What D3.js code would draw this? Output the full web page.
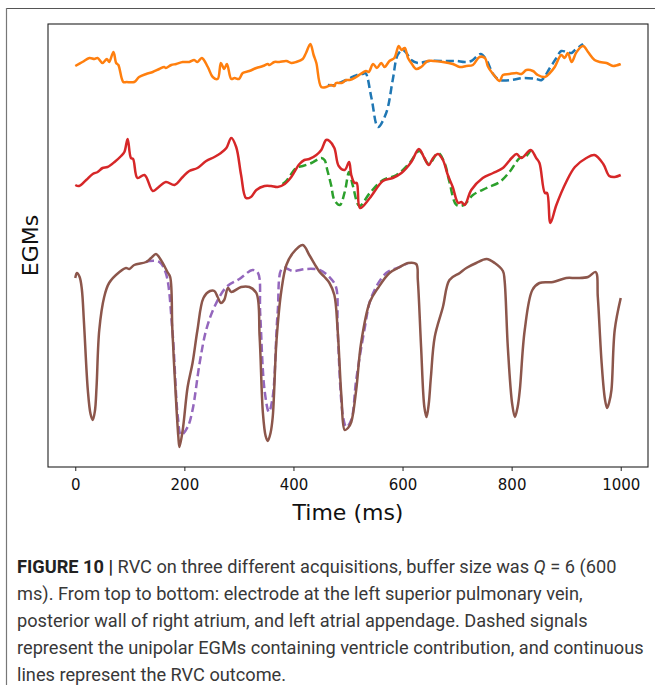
<!DOCTYPE html>
<html>
<head>
<meta charset="utf-8">
<script src="https://cdn.jsdelivr.net/npm/d3@7"></script>
<style>
  body{margin:0;background:#fff;}
  svg{display:block;}
</style>
</head>
<body>
<svg id="fig" width="655" height="685"></svg>
<script>
// time (ms), amplitude (stacked, arbitrary units)
var orangeRvc=[[0,40.1],[13,40.5],[26,40.9],[35,40.8],[41,40.9],[50,40.4],[58,40.8],[62,40.5],[70,41.5],[75,40.4],[79,40.2],[88,38.5],[94,38.5],[108,38.5],[117,39.0],[130,39.3],[142,39.5],[154,39.8],[163,40.0],[166,39.9],[176,40.2],[185,40.3],[197,40.5],[209,40.5],[218,40.7],[224,40.5],[232,40.9],[243,40.0],[252,39.0],[261,38.8],[267,40.4],[273,39.8],[278,40.3],[286,38.8],[292,38.9],[300,38.8],[307,39.4],[319,39.6],[332,39.9],[344,40.1],[353,40.3],[356,40.2],[365,40.5],[374,40.5],[387,40.6],[396,40.4],[405,40.5],[417,40.8],[423,41.4],[431,42.3],[437,41.2],[442,40.4],[451,38.0],[460,38.0],[469,38.2],[475,38.1],[478,38.4],[488,38.4],[497,38.7],[503,38.7],[515,39.0],[518,39.1],[533,39.6],[538,39.5],[546,40.3],[553,39.9],[561,40.4],[567,40.0],[576,40.6],[585,40.9],[593,42.1],[598,41.7],[604,41.9],[610,40.9],[616,40.4],[625,39.8],[634,40.0],[646,40.6],[656,40.6],[674,40.5],[692,40.3],[705,40.0],[717,40.1],[729,40.2],[741,41.0],[751,40.9],[757,40.0],[769,39.1],[778,38.6],[784,39.2],[796,39.3],[809,39.4],[818,39.3],[827,39.7],[839,39.6],[848,39.2],[861,39.0],[870,39.4],[879,40.0],[891,41.2],[897,40.9],[903,41.4],[910,40.5],[919,41.5],[931,42.1],[940,41.5],[952,40.7],[962,40.5],[974,40.4],[986,40.1],[1000,40.3]];
var blueRaw=[[463,38.2],[477,38.2],[484,38.4],[497,38.7],[508,39.0],[521,39.3],[527,39.3],[532,39.4],[543,36.9],[555,34.0],[570,35.4],[582,38.7],[591,41.2],[600,41.7],[607,41.4],[616,40.7],[628,40.4],[650,40.6],[680,40.6],[699,40.6],[714,40.5],[726,40.6],[743,41.3],[754,40.7],[766,39.3],[778,38.7],[800,38.7],[821,38.9],[845,38.8],[855,38.7],[870,39.9],[882,40.9],[891,41.6],[900,41.5],[910,41.4],[916,41.7],[931,42.3]];
var redRvc=[[0,28.2],[7,28.1],[20,28.7],[32,29.3],[41,29.5],[50,29.9],[59,30.0],[72,30.5],[84,31.1],[90,31.5],[96,32.8],[102,30.9],[106,30.8],[114,28.9],[127,29.2],[142,27.6],[151,27.9],[166,28.5],[182,28.2],[197,29.0],[209,29.6],[224,29.9],[240,30.6],[255,31.0],[267,31.4],[277,31.9],[286,32.9],[295,32.0],[304,29.2],[313,26.9],[322,27.0],[332,27.7],[347,28.1],[359,28.1],[371,28.0],[384,28.3],[396,29.0],[411,30.3],[420,30.7],[429,30.8],[442,31.2],[451,31.7],[460,32.7],[466,32.6],[475,31.9],[483,30.1],[494,29.7],[502,30.5],[506,29.2],[512,28.4],[516,28.4],[522,25.9],[540,26.9],[564,28.6],[582,28.9],[598,29.4],[616,30.5],[630,31.8],[640,30.9],[648,30.2],[656,30.9],[665,31.3],[674,30.7],[683,29.2],[692,28.0],[702,26.4],[708,26.5],[714,26.2],[726,27.7],[747,28.9],[766,29.4],[784,29.9],[800,30.9],[809,31.3],[818,30.9],[835,31.7],[845,30.9],[851,30.4],[861,27.4],[865,27.4],[871,24.4],[882,26.2],[900,28.5],[916,30.0],[937,30.9],[952,31.2],[968,30.3],[979,29.1],[989,29.0],[1000,29.2]];
var greenRaw=[[380,28.3],[387,28.6],[405,29.9],[417,30.1],[433,30.4],[451,30.9],[457,30.7],[462,29.7],[469,28.2],[475,26.7],[485,26.2],[494,27.5],[502,29.5],[509,28.1],[521,26.1],[540,27.4],[564,28.7],[589,29.2],[613,30.4],[631,31.6],[648,30.3],[665,31.4],[677,30.4],[686,28.5],[699,26.2],[712,26.2],[729,27.2],[754,27.9],[778,28.5],[796,29.5],[815,30.9],[827,31.1],[835,31.7]];
var brownRvc=[[0,18.9],[3,19.4],[8,19.0],[12,17.8],[16,14.4],[23,7.7],[28,5.3],[32,4.7],[36,5.6],[39,8.0],[44,13.7],[53,17.0],[62,18.4],[81,19.5],[93,19.9],[99,19.8],[108,20.2],[130,20.5],[139,20.9],[148,21.3],[157,20.7],[169,19.5],[174,19.0],[178,13.7],[185,6.4],[189,3.0],[191,2.0],[197,3.7],[206,8.0],[215,10.4],[224,13.7],[235,16.9],[247,17.6],[255,17.6],[261,17.0],[267,16.4],[273,16.7],[280,17.9],[286,17.5],[304,18.0],[319,18.0],[332,17.4],[338,13.0],[344,5.4],[349,3.1],[353,2.6],[358,3.4],[362,5.0],[369,12.7],[378,17.7],[387,20.2],[399,21.4],[417,22.2],[429,21.2],[442,20.0],[448,19.5],[457,19.0],[466,18.4],[475,17.2],[481,13.7],[488,7.0],[494,3.7],[500,3.9],[506,4.5],[515,7.7],[524,12.4],[540,16.5],[555,17.9],[576,19.4],[595,20.0],[610,20.4],[625,20.3],[628,18.7],[634,12.0],[640,6.0],[644,5.0],[648,6.3],[652,9.0],[659,13.0],[674,16.0],[686,18.7],[705,19.4],[717,19.9],[735,20.4],[754,20.8],[769,20.4],[784,19.6],[787,18.7],[793,12.0],[801,6.3],[806,5.0],[811,6.0],[815,7.7],[824,13.7],[838,17.7],[851,18.4],[876,18.5],[900,18.9],[919,18.9],[940,19.0],[954,19.5],[958,17.0],[965,10.4],[971,6.8],[975,5.9],[979,6.5],[983,7.7],[989,13.7],[1000,16.9]];
var purpleRaw=[[130,20.5],[136,20.6],[154,20.5],[166,19.4],[178,13.7],[188,5.0],[194,3.2],[206,4.0],[215,5.7],[228,10.4],[240,13.7],[255,16.0],[277,18.0],[301,18.8],[325,19.7],[335,19.4],[339,15.4],[347,7.7],[355,5.5],[362,7.0],[371,15.4],[380,19.9],[399,19.6],[423,19.8],[448,19.7],[466,19.0],[478,18.0],[481,13.7],[491,5.0],[497,4.0],[506,4.7],[515,8.7],[530,13.7],[543,17.0],[570,19.4],[595,20.0],[610,20.4]];

var xTicks=[0,200,400,600,800,1000];
var xLabel='Time (ms)';
var yLabel='EGMs';

var caption=[
  [{b:'FIGURE 10 | '},{t:'RVC on three different acquisitions, buffer size was '},{i:'Q'},{t:' = 6 (600'}],
  [{t:'ms). From top to bottom: electrode at the left superior pulmonary vein,'}],
  [{t:'posterior wall of right atrium, and left atrial appendage. Dashed signals'}],
  [{t:'represent the unipolar EGMs containing ventricle contribution, and continuous'}],
  [{t:'lines represent the RVC outcome.'}]
];

var svg=d3.select('#fig');
var W=655,H=685;
var plot={left:48,right:648,top:24,bottom:467};

// figure frame lines
svg.append('line').attr('x1',6).attr('x2',W).attr('y1',8.5).attr('y2',8.5)
  .attr('stroke','#555').attr('stroke-width',1.2);
svg.append('line').attr('x1',6.5).attr('x2',6.5).attr('y1',8).attr('y2',H)
  .attr('stroke','#777').attr('stroke-width',1.2);

var x=d3.scaleLinear().domain([-50,1050]).range([plot.left,plot.right]);
var y=d3.scaleLinear().domain([0,44.3]).range([plot.bottom,plot.top]);

var line=d3.line().x(d=>x(d[0])).y(d=>y(d[1])).curve(d3.curveCatmullRom.alpha(0.5));

var series=[
  {data:blueRaw,color:'#1f77b4',dash:'8,4'},
  {data:orangeRvc,color:'#ff7f0e'},
  {data:greenRaw,color:'#2ca02c',dash:'8,4'},
  {data:redRvc,color:'#d62728'},
  {data:purpleRaw,color:'#9467bd',dash:'8,4'},
  {data:brownRvc,color:'#8c564b'}
];

svg.append('defs').append('clipPath').attr('id','clip')
  .append('rect').attr('x',plot.left).attr('y',plot.top)
  .attr('width',plot.right-plot.left).attr('height',plot.bottom-plot.top);

var g=svg.append('g').attr('clip-path','url(#clip)');
series.forEach(function(s){
  g.append('path').datum(s.data)
    .attr('d',line)
    .attr('fill','none')
    .attr('stroke',s.color)
    .attr('stroke-width',2.5)
    .attr('stroke-linejoin','round')
    .attr('stroke-dasharray',s.dash||null);
});

// frame
svg.append('rect').attr('x',plot.left).attr('y',plot.top)
  .attr('width',plot.right-plot.left).attr('height',plot.bottom-plot.top)
  .attr('fill','none').attr('stroke','#222').attr('stroke-width',1.1);

var xAxis=svg.append('g').attr('transform','translate(0,'+plot.bottom+')')
  .call(d3.axisBottom(x).tickValues(xTicks).tickSize(4).tickSizeOuter(0).tickFormat(d3.format('d')));
xAxis.select('.domain').remove();
xAxis.selectAll('line').attr('stroke','#222');
xAxis.selectAll('text').attr('font-family','DejaVu Sans').attr('font-size',15).attr('fill','#111').attr('dy','1.05em');

svg.append('text').attr('x',(plot.left+plot.right)/2).attr('y',520)
  .attr('text-anchor','middle').attr('font-family','DejaVu Sans').attr('font-size',22)
  .attr('fill','#111').text(xLabel);
svg.append('text').attr('transform','translate(38,'+((plot.top+plot.bottom)/2)+') rotate(-90)')
  .attr('text-anchor','middle').attr('font-family','DejaVu Sans').attr('font-size',22)
  .attr('fill','#111').text(yLabel);

// caption
var cap=svg.append('g').attr('font-family','Roboto').attr('font-size',18.2).attr('fill','#383838');
caption.forEach(function(parts,i){
  var t=cap.append('text').attr('x',17).attr('y',573+i*27);
  parts.forEach(function(p){
    if(p.b) t.append('tspan').attr('font-weight','bold').attr('fill','#222').text(p.b);
    else if(p.i) t.append('tspan').attr('font-style','italic').text(p.i);
    else t.append('tspan').text(p.t);
  });
});
</script>
</body>
</html>
